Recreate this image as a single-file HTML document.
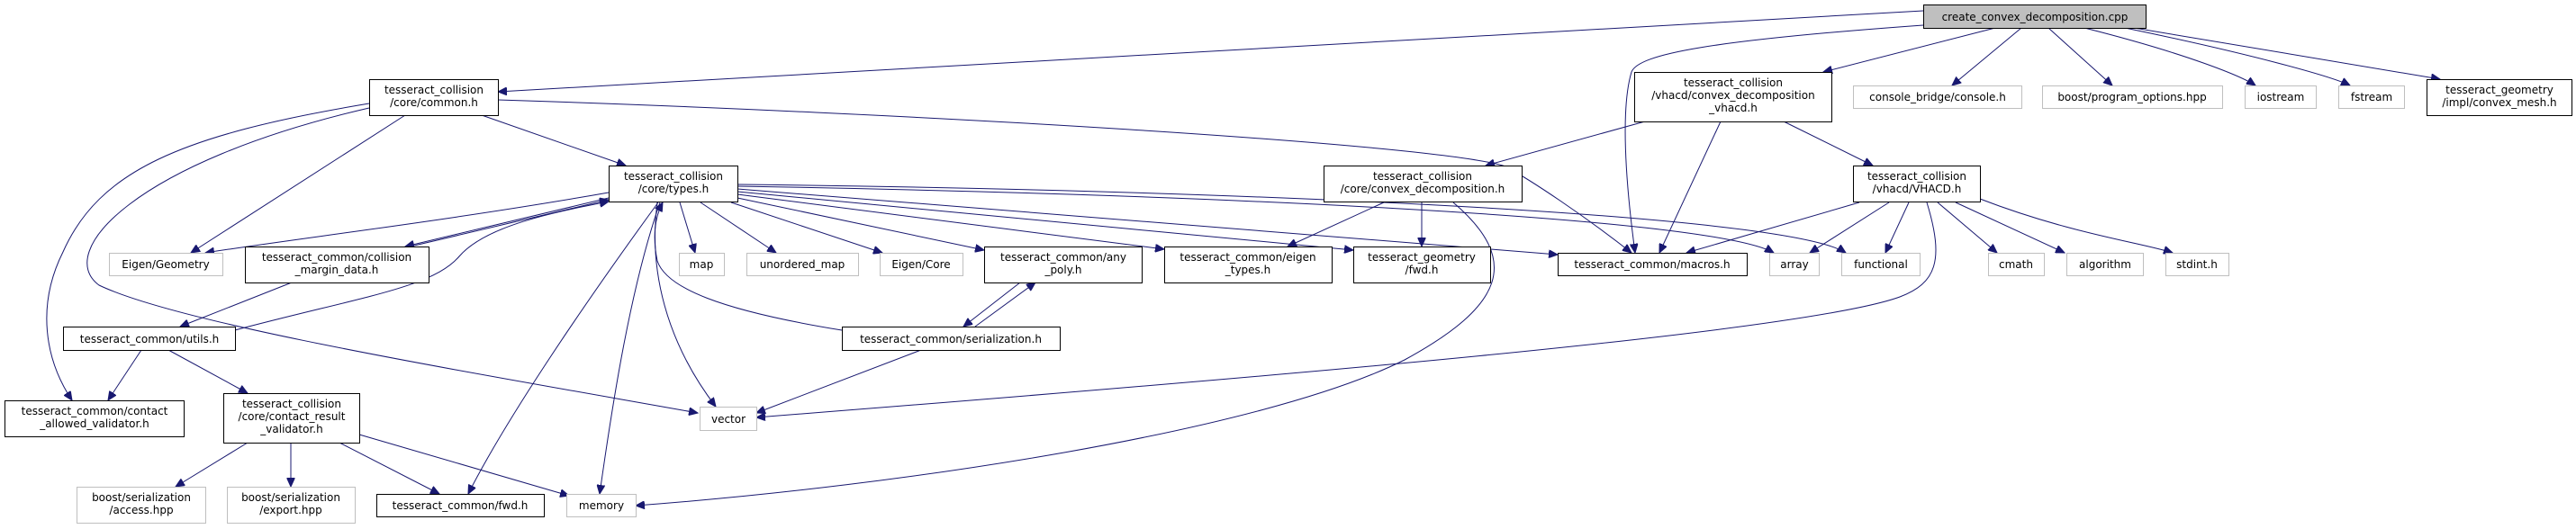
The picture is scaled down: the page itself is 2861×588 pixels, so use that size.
<!DOCTYPE html>
<html><head><meta charset="utf-8"><style>
html,body{margin:0;padding:0;background:#fff}
svg{display:block}
text{font-family:"DejaVu Sans","Liberation Sans",sans-serif;font-size:12px;fill:#000}
.n rect{fill:#fff;stroke:#000;stroke-width:1}
.g rect{fill:#fff;stroke:#bfbfbf;stroke-width:1}
path{fill:none;stroke:#191970;stroke-width:1}
</style></head><body>
<svg width="2861" height="588" viewBox="0 0 2861 588" xmlns="http://www.w3.org/2000/svg">
<defs><marker id="a" markerUnits="userSpaceOnUse" markerWidth="11" markerHeight="9" refX="10" refY="4.5" orient="auto"><path d="M0,0 L10,4.5 L0,9 Z" style="fill:#191970;stroke:#191970"/></marker></defs>
<g marker-end="url(#a)">
<path d="M2136,12 L553,102"/>
<path d="M2136,28 C1900,45 1820,60 1812,80 C1800,120 1805,200 1816,281"/>
<path d="M2216,31 L2025,80"/>
<path d="M2245,31 L2168,95"/>
<path d="M2275,31 L2346,95"/>
<path d="M2315,31 C2430,60 2490,85 2505,95"/>
<path d="M2360,31 C2500,60 2590,85 2610,95"/>
<path d="M2370,31 L2710,88"/>
<path d="M535,128 L695,184"/>
<path d="M450,128 L212,281"/>
<path d="M410,115 C200,150 110,190 70,280 C40,340 50,400 80,445"/>
<path d="M410,120 C150,180 60,280 110,317 C200,360 500,410 775,459"/>
<path d="M553,111 C1000,125 1600,160 1672,185 C1700,200 1760,240 1812,281"/>
<path d="M676,214 C500,245 330,265 228,281"/>
<path d="M676,220 L450,274"/>
<path d="M460,273 L676,222"/>
<path d="M261,367 C400,330 480,320 510,285 C540,250 620,235 676,224"/>
<path d="M755,225 L772,281"/>
<path d="M778,225 L862,281"/>
<path d="M812,225 L980,281"/>
<path d="M819,220 L1093,278"/>
<path d="M819,216 L1293,277"/>
<path d="M819,213 L1503,278"/>
<path d="M819,210 L1730,283"/>
<path d="M819,207 C1300,215 1900,240 1970,281"/>
<path d="M819,205 C1300,210 1980,235 2050,281"/>
<path d="M730,225 C720,300 740,380 795,452"/>
<path d="M733,225 C700,320 680,450 666,549"/>
<path d="M731,225 C640,350 560,470 520,549"/>
<path d="M935,367 C800,345 740,320 730,290 C724,260 728,240 736,225"/>
<path d="M1023,389 L840,459"/>
<path d="M324,314 L200,363"/>
<path d="M157,389 L120,445"/>
<path d="M187,389 L275,437"/>
<path d="M275,492 L195,541"/>
<path d="M323,492 L323,541"/>
<path d="M377,492 L488,549"/>
<path d="M399,483 L632,551"/>
<path d="M1133,314 L1070,363"/>
<path d="M1083,363 L1150,314"/>
<path d="M1537,225 L1430,274"/>
<path d="M1579,225 L1579,274"/>
<path d="M1614,225 C1690,290 1670,340 1560,400 C1400,480 1000,540 706,562"/>
<path d="M1827,135 L1650,184"/>
<path d="M1911,135 L1843,281"/>
<path d="M1981,135 L2080,184"/>
<path d="M2065,225 L1873,281"/>
<path d="M2098,225 L2010,281"/>
<path d="M2120,225 L2094,281"/>
<path d="M2152,225 L2218,281"/>
<path d="M2172,225 L2293,281"/>
<path d="M2199,221 C2300,260 2380,270 2413,281"/>
<path d="M2140,225 C2160,290 2150,315 2110,330 C2000,370 1400,420 840,464"/>
</g>
<g text-anchor="middle">
<g class="n"><rect x="2136.5" y="5.5" width="247" height="26" style="fill:#bfbfbf"/><text x="2260" y="23">create_convex_decomposition.cpp</text></g>
<g class="n"><rect x="410.5" y="88.5" width="143" height="40"/><text x="482" y="104">tesseract_collision</text><text x="482" y="118">/core/common.h</text></g>
<g class="n"><rect x="1815.5" y="80.5" width="219" height="55"/><text x="1925" y="96">tesseract_collision</text><text x="1925" y="110">/vhacd/convex_decomposition</text><text x="1925" y="124">_vhacd.h</text></g>
<g class="g"><rect x="2058.5" y="95.5" width="187" height="25"/><text x="2152" y="112">console_bridge/console.h</text></g>
<g class="g"><rect x="2268.5" y="95.5" width="200" height="25"/><text x="2368" y="112">boost/program_options.hpp</text></g>
<g class="g"><rect x="2493.5" y="95.5" width="79" height="25"/><text x="2533" y="112">iostream</text></g>
<g class="g"><rect x="2597.5" y="95.5" width="73" height="25"/><text x="2634" y="112">fstream</text></g>
<g class="n"><rect x="2695.5" y="88.5" width="161" height="40"/><text x="2776" y="104">tesseract_geometry</text><text x="2776" y="118">/impl/convex_mesh.h</text></g>
<g class="n"><rect x="676.5" y="184.5" width="143" height="40"/><text x="748" y="200">tesseract_collision</text><text x="748" y="214">/core/types.h</text></g>
<g class="n"><rect x="1470.5" y="184.5" width="220" height="40"/><text x="1580" y="200">tesseract_collision</text><text x="1580" y="214">/core/convex_decomposition.h</text></g>
<g class="n"><rect x="2058.5" y="184.5" width="141" height="40"/><text x="2129" y="200">tesseract_collision</text><text x="2129" y="214">/vhacd/VHACD.h</text></g>
<g class="g"><rect x="121.5" y="281.5" width="126" height="25"/><text x="184" y="298">Eigen/Geometry</text></g>
<g class="n"><rect x="272.5" y="274.5" width="204" height="40"/><text x="374" y="290">tesseract_common/collision</text><text x="374" y="304">_margin_data.h</text></g>
<g class="g"><rect x="754.5" y="281.5" width="50" height="25"/><text x="779" y="298">map</text></g>
<g class="g"><rect x="829.5" y="281.5" width="124" height="25"/><text x="891" y="298">unordered_map</text></g>
<g class="g"><rect x="977.5" y="281.5" width="92" height="25"/><text x="1023" y="298">Eigen/Core</text></g>
<g class="n"><rect x="1093.5" y="274.5" width="175" height="40"/><text x="1181" y="290">tesseract_common/any</text><text x="1181" y="304">_poly.h</text></g>
<g class="n"><rect x="1293.5" y="274.5" width="186" height="40"/><text x="1386" y="290">tesseract_common/eigen</text><text x="1386" y="304">_types.h</text></g>
<g class="n"><rect x="1503.5" y="274.5" width="152" height="40"/><text x="1579" y="290">tesseract_geometry</text><text x="1579" y="304">/fwd.h</text></g>
<g class="n"><rect x="1730.5" y="281.5" width="210" height="25"/><text x="1835" y="298">tesseract_common/macros.h</text></g>
<g class="g"><rect x="1965.5" y="281.5" width="55" height="25"/><text x="1993" y="298">array</text></g>
<g class="g"><rect x="2045.5" y="281.5" width="87" height="25"/><text x="2089" y="298">functional</text></g>
<g class="g"><rect x="2208.5" y="281.5" width="62" height="25"/><text x="2239" y="298">cmath</text></g>
<g class="g"><rect x="2295.5" y="281.5" width="85" height="25"/><text x="2338" y="298">algorithm</text></g>
<g class="g"><rect x="2405.5" y="281.5" width="70" height="25"/><text x="2440" y="298">stdint.h</text></g>
<g class="n"><rect x="70.5" y="363.5" width="191" height="26"/><text x="166" y="381">tesseract_common/utils.h</text></g>
<g class="n"><rect x="935.5" y="363.5" width="242" height="26"/><text x="1056" y="381">tesseract_common/serialization.h</text></g>
<g class="n"><rect x="5.5" y="445.5" width="199" height="40"/><text x="105" y="461">tesseract_common/contact</text><text x="105" y="475">_allowed_validator.h</text></g>
<g class="n"><rect x="248.5" y="437.5" width="151" height="55"/><text x="324" y="453">tesseract_collision</text><text x="324" y="467">/core/contact_result</text><text x="324" y="481">_validator.h</text></g>
<g class="g"><rect x="777.5" y="452.5" width="63" height="26"/><text x="809" y="470">vector</text></g>
<g class="g"><rect x="85.5" y="541.5" width="143" height="40"/><text x="157" y="557">boost/serialization</text><text x="157" y="571">/access.hpp</text></g>
<g class="g"><rect x="252.5" y="541.5" width="142" height="40"/><text x="323" y="557">boost/serialization</text><text x="323" y="571">/export.hpp</text></g>
<g class="n"><rect x="418.5" y="549.5" width="186" height="25"/><text x="511" y="566">tesseract_common/fwd.h</text></g>
<g class="g"><rect x="629.5" y="549.5" width="77" height="25"/><text x="668" y="566">memory</text></g>
</g>
</svg>
</body></html>
